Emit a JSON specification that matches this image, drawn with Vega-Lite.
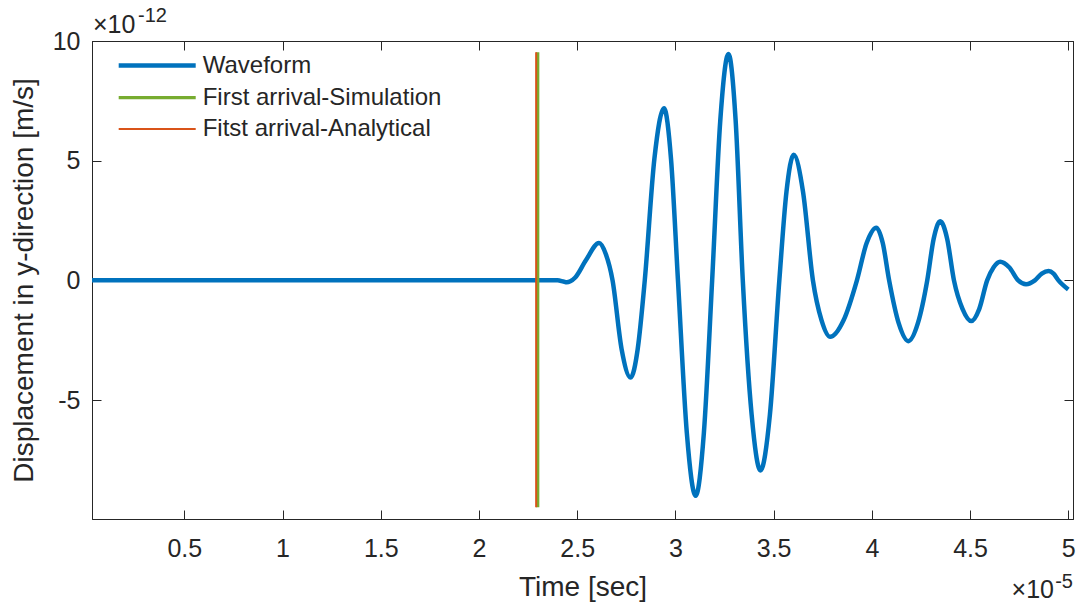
{
  "$schema": "https://vega.github.io/schema/vega-lite/v6.json",
  "width": 981,
  "height": 478,
  "autosize": {"type": "none"},
  "padding": {"left": 92, "top": 41, "right": 9, "bottom": 91},
  "background": "white",
  "config": {
    "font": "Liberation Sans",
    "view": {"stroke": "#262626", "strokeWidth": 1},
    "axis": {
      "grid": false,
      "domainColor": "#262626",
      "domainWidth": 1,
      "tickColor": "#262626",
      "tickWidth": 1,
      "tickSize": -9,
      "labelColor": "#262626",
      "titleColor": "#262626",
      "labelFont": "Liberation Sans",
      "titleFont": "Liberation Sans",
      "labelFontSize": 25,
      "titleFontSize": 28,
      "titleFontWeight": "normal",
      "labelFlush": false
    },
    "legend": {
      "orient": "none",
      "legendX": 49.7,
      "legendY": 9,
      "symbolType": "M-3,0H3",
      "symbolSize": 659,
      "labelFont": "Liberation Sans",
      "labelFontSize": 24,
      "labelColor": "#262626",
      "labelOffset": 30,
      "labelLimit": 500,
      "padding": 0,
      "rowPadding": 5,
      "title": null
    }
  },
  "datasets": {
    "waveform": [
      {"series": "Waveform", "t": 0.03, "v": 0},
      {"series": "Waveform", "t": 0.5, "v": 0},
      {"series": "Waveform", "t": 1.0, "v": 0},
      {"series": "Waveform", "t": 1.5, "v": 0},
      {"series": "Waveform", "t": 2.0, "v": 0},
      {"series": "Waveform", "t": 2.3, "v": 0},
      {"series": "Waveform", "t": 2.4, "v": 0},
      {"series": "Waveform", "t": 2.43, "v": -0.05},
      {"series": "Waveform", "t": 2.447, "v": -0.08},
      {"series": "Waveform", "t": 2.465, "v": -0.04},
      {"series": "Waveform", "t": 2.49, "v": 0.12},
      {"series": "Waveform", "t": 2.545, "v": 0.85},
      {"series": "Waveform", "t": 2.611, "v": 1.56},
      {"series": "Waveform", "t": 2.6455, "v": 1.1},
      {"series": "Waveform", "t": 2.68, "v": 0},
      {"series": "Waveform", "t": 2.726, "v": -2.87},
      {"series": "Waveform", "t": 2.772, "v": -4.06},
      {"series": "Waveform", "t": 2.808, "v": -2.87},
      {"series": "Waveform", "t": 2.844, "v": 0},
      {"series": "Waveform", "t": 2.893, "v": 5.08},
      {"series": "Waveform", "t": 2.942, "v": 7.19},
      {"series": "Waveform", "t": 2.9775, "v": 5.08},
      {"series": "Waveform", "t": 3.013, "v": 0},
      {"series": "Waveform", "t": 3.058, "v": -6.36},
      {"series": "Waveform", "t": 3.103, "v": -9.0},
      {"series": "Waveform", "t": 3.145, "v": -6.36},
      {"series": "Waveform", "t": 3.187, "v": 0},
      {"series": "Waveform", "t": 3.2285, "v": 6.69},
      {"series": "Waveform", "t": 3.27, "v": 9.46},
      {"series": "Waveform", "t": 3.3065, "v": 6.69},
      {"series": "Waveform", "t": 3.343, "v": 0},
      {"series": "Waveform", "t": 3.388, "v": -5.61},
      {"series": "Waveform", "t": 3.433, "v": -7.94},
      {"series": "Waveform", "t": 3.481, "v": -5.61},
      {"series": "Waveform", "t": 3.529, "v": 0},
      {"series": "Waveform", "t": 3.5655, "v": 3.71},
      {"series": "Waveform", "t": 3.602, "v": 5.25},
      {"series": "Waveform", "t": 3.6495, "v": 3.71},
      {"series": "Waveform", "t": 3.7, "v": 0},
      {"series": "Waveform", "t": 3.744, "v": -1.67},
      {"series": "Waveform", "t": 3.788, "v": -2.36},
      {"series": "Waveform", "t": 3.856, "v": -1.67},
      {"series": "Waveform", "t": 3.924, "v": 0},
      {"series": "Waveform", "t": 3.9735, "v": 1.56},
      {"series": "Waveform", "t": 4.023, "v": 2.2},
      {"series": "Waveform", "t": 4.0555, "v": 1.56},
      {"series": "Waveform", "t": 4.088, "v": 0},
      {"series": "Waveform", "t": 4.137, "v": -1.8},
      {"series": "Waveform", "t": 4.186, "v": -2.54},
      {"series": "Waveform", "t": 4.234, "v": -1.8},
      {"series": "Waveform", "t": 4.282, "v": 0},
      {"series": "Waveform", "t": 4.315, "v": 1.75},
      {"series": "Waveform", "t": 4.348, "v": 2.47},
      {"series": "Waveform", "t": 4.383, "v": 1.75},
      {"series": "Waveform", "t": 4.418, "v": 0},
      {"series": "Waveform", "t": 4.462, "v": -1.2},
      {"series": "Waveform", "t": 4.506, "v": -1.7},
      {"series": "Waveform", "t": 4.5465, "v": -1.2},
      {"series": "Waveform", "t": 4.587, "v": 0},
      {"series": "Waveform", "t": 4.62, "v": 0.55},
      {"series": "Waveform", "t": 4.653, "v": 0.78},
      {"series": "Waveform", "t": 4.699, "v": 0.55},
      {"series": "Waveform", "t": 4.745, "v": 0},
      {"series": "Waveform", "t": 4.785, "v": -0.16},
      {"series": "Waveform", "t": 4.83, "v": 0},
      {"series": "Waveform", "t": 4.865, "v": 0.28},
      {"series": "Waveform", "t": 4.9, "v": 0.39},
      {"series": "Waveform", "t": 4.925, "v": 0.28},
      {"series": "Waveform", "t": 4.95, "v": 0},
      {"series": "Waveform", "t": 5.0, "v": -0.38}
    ],
    "arrivals": [
      {"series": "First arrival-Simulation", "t": 2.299, "top": 9.53, "bottom": -9.48},
      {"series": "Fitst arrival-Analytical", "t": 2.291, "top": 9.53, "bottom": -9.48}
    ],
    "yExpBase": [{"t": 0.03, "v": 10, "label": "×10"}],
    "yExpSup": [{"t": 0.03, "v": 10, "label": "-12"}],
    "xExpBase": [{"t": 5.024, "v": -9.97, "label": "×10"}],
    "xExpSup": [{"t": 5.024, "v": -9.97, "label": "-5"}]
  },
  "layer": [
    {
      "data": {"name": "waveform"},
      "mark": {"type": "line", "interpolate": "monotone"},
      "encoding": {
        "x": {
          "field": "t", "type": "quantitative",
          "scale": {"domain": [0.03, 5.024], "nice": false, "zero": false},
          "axis": {"orient": "bottom", "title": "Time [sec]", "values": [0.5, 1, 1.5, 2, 2.5, 3, 3.5, 4, 4.5, 5], "format": "~g", "labelPadding": 26.5, "titlePadding": 12}
        },
        "y": {
          "field": "v", "type": "quantitative",
          "scale": {"domain": [-9.97, 10], "nice": false, "zero": false},
          "axis": {"orient": "left", "title": "Displacement in y-direction [m/s]", "values": [-5, 0, 5, 10], "labelExpr": "datum.value + ''", "labelPadding": 21, "titlePadding": 14}
        },
        "color": {
          "field": "series", "type": "nominal",
          "scale": {"domain": ["Waveform", "First arrival-Simulation", "Fitst arrival-Analytical"], "range": ["#0072BD", "#77AC30", "#D95319"]},
          "legend": {"title": null}
        },
        "strokeWidth": {
          "field": "series", "type": "nominal",
          "scale": {"domain": ["Waveform", "First arrival-Simulation", "Fitst arrival-Analytical"], "range": [4.5, 2, 2]},
          "legend": {"title": null}
        }
      }
    },
    {
      "data": {"name": "arrivals"},
      "mark": {"type": "rule"},
      "encoding": {
        "x": {
          "field": "t", "type": "quantitative",
          "axis": {"orient": "top", "title": null, "labels": false, "values": [0.5, 1, 1.5, 2, 2.5, 3, 3.5, 4, 4.5, 5]}
        },
        "y": {
          "field": "top", "type": "quantitative",
          "axis": {"orient": "right", "title": null, "labels": false, "values": [-5, 0, 5, 10]}
        },
        "y2": {"field": "bottom"},
        "color": {"field": "series", "type": "nominal", "legend": {"title": null}},
        "strokeWidth": {"field": "series", "type": "nominal", "legend": {"title": null}}
      }
    },
    {
      "data": {"name": "yExpBase"},
      "mark": {"type": "text", "align": "left", "baseline": "alphabetic", "dx": 1, "dy": -8, "fontSize": 25, "font": "Liberation Sans", "color": "#262626"},
      "encoding": {
        "x": {"field": "t", "type": "quantitative", "axis": null},
        "y": {"field": "v", "type": "quantitative", "axis": null},
        "text": {"field": "label"}
      }
    },
    {
      "data": {"name": "yExpSup"},
      "mark": {"type": "text", "align": "left", "baseline": "alphabetic", "dx": 46, "dy": -19, "fontSize": 20, "font": "Liberation Sans", "color": "#262626"},
      "encoding": {
        "x": {"field": "t", "type": "quantitative", "axis": null},
        "y": {"field": "v", "type": "quantitative", "axis": null},
        "text": {"field": "label"}
      }
    },
    {
      "data": {"name": "xExpBase"},
      "mark": {"type": "text", "align": "right", "baseline": "alphabetic", "dx": -19, "dy": 79, "fontSize": 25, "font": "Liberation Sans", "color": "#262626"},
      "encoding": {
        "x": {"field": "t", "type": "quantitative", "axis": null},
        "y": {"field": "v", "type": "quantitative", "axis": null},
        "text": {"field": "label"}
      }
    },
    {
      "data": {"name": "xExpSup"},
      "mark": {"type": "text", "align": "right", "baseline": "alphabetic", "dx": 0, "dy": 69, "fontSize": 20, "font": "Liberation Sans", "color": "#262626"},
      "encoding": {
        "x": {"field": "t", "type": "quantitative", "axis": null},
        "y": {"field": "v", "type": "quantitative", "axis": null},
        "text": {"field": "label"}
      }
    }
  ],
  "resolve": {"axis": {"x": "independent", "y": "independent"}}
}
